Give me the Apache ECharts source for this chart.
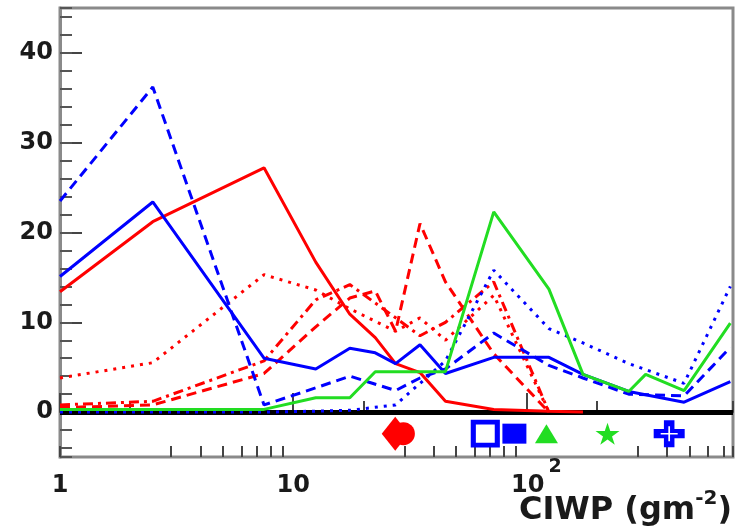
<!DOCTYPE html>
<html>
<head>
<meta charset="utf-8">
<title>CIWP distributions</title>
<script src="https://cdn.jsdelivr.net/npm/echarts@6/dist/echarts.min.js"></script>
<style>
  html, body { margin: 0; padding: 0; background: #fff; }
  #chart { width: 738px; height: 529px; }
</style>
</head>
<body>
<div id="chart"></div>
<script>
// bin centres along CIWP (g m^-2), shared by every curve; null = no point in that bin
var ciwp = [1, 2.5, 7.5, 12.5, 17.5, 22.5, 27.5, 35, 45, 72.5, 125, 175, 275, 325, 475, 750];

var redSolid   = [13.4, 21.2, 27.2, 16.7, 10.9, 8.3, 5.4, 4.4, 1.2, 0.3, 0.1, 0, null, null, null, null];
var redDashed  = [0.5, 0.8, 4.3, 9.5, 12.7, 13.5, 9.0, 21.0, 14.5, 6.5, 0, null, null, null, null, null];
var redDotted  = [3.8, 5.5, 15.3, 13.6, 11.5, null, 9.0, 10.5, 8.0, 13.0, 0, null, null, null, null, null];
var redDashDot = [0.8, 1.2, 5.7, 12.5, 14.2, null, 10.5, 8.5, 10.0, 14.5, 0, null, null, null, null, null];
var blueSolid  = [15.1, 23.4, 6.0, 4.8, 7.1, 6.6, 5.4, 7.5, 4.3, 6.1, 6.1, 4.2, 2.3, null, 1.1, 3.4];
var blueDashed = [23.5, 36.2, 0.8, 2.7, 4.0, null, 2.4, 3.8, 4.8, 8.8, 5.2, 3.8, 2.0, null, 1.8, 7.2];
var blueDotted = [0, 0, 0, 0.1, 0.2, null, 0.8, 3.2, 5.7, 15.8, 9.3, 7.7, 5.4, null, 3.2, 14.0];
var greenSolid = [0.3, 0.3, 0.3, 1.6, 1.6, 4.5, null, null, 4.5, 22.3, 13.7, 4.2, 2.3, 4.2, 2.4, 9.9];

// mean CIWP markers drawn under the zero line
var markerX = [27.4, 29.7, 66.7, 88.9, 122, 223, 410];
var markerY = -2.4;

var FONT = 'DejaVu Sans';
var RED = '#ff0000', BLUE = '#0000ff', GREEN = '#22dd22';

function pairs(ys) {
    var out = [];
    for (var i = 0; i < ciwp.length; i++) {
        if (ys[i] !== null) out.push([ciwp[i], ys[i]]);
    }
    return out;
}

function curve(name, ys, color, dash) {
    return {
        name: name,
        type: 'line',
        data: pairs(ys),
        symbol: 'none',
        z: 3,
        lineStyle: {color: color, width: 3, type: dash}
    };
}

function marker(i, symbol, size, style) {
    style.opacity = 1;
    return {
        type: 'scatter',
        data: [[markerX[i], markerY]],
        symbol: symbol,
        symbolSize: size,
        itemStyle: style,
        z: 4
    };
}

var starPath = 'path://M50,0 L61,35 L98,35 L68,57 L79,91 L50,70 L21,91 L32,57 L2,35 L39,35 Z';
var plusPath = 'path://M33,0 H67 V33 H100 V67 H67 V100 H33 V67 H0 V33 H33 Z';
var thinPlusPath = 'path://M45,0 H55 V45 H100 V55 H55 V100 H45 V55 H0 V45 H45 Z';

var labelRich = {
    b: {fontSize: 24, fontWeight: 'bold', fontFamily: FONT, color: '#1a1a1a', padding: [16, 0, 0, 0]},
    c: {fontSize: 24, fontWeight: 'bold', fontFamily: FONT, color: '#1a1a1a', padding: [16, 0, 0, 20]},
    s: {fontSize: 19, fontWeight: 'bold', fontFamily: FONT, color: '#1a1a1a', padding: [0, 0, 21, 4]}
};

var xAxes = [{
    type: 'log',
    logBase: 10,
    min: 1,
    max: 770,
    position: 'bottom',
    axisLine: {show: true, lineStyle: {color: '#444', width: 2}},
    axisTick: {show: true, inside: true, length: 19, lineStyle: {color: '#444', width: 2}},
    splitLine: {show: false},
    axisLabel: {
        showMaxLabel: false,
        margin: 1,
        formatter: function (v) {
            var p = Math.round(Math.log10(v));
            if (p === 0) return '{b|1}';
            if (p === 1) return '{b|10}';
            return '{c|10}{s|' + p + '}';
        },
        rich: labelRich
    }
}];

// minor log ticks 2..9 in every decade: one scaled hidden axis per multiplier
for (var m = 2; m <= 9; m++) {
    xAxes.push({
        type: 'log',
        logBase: 10,
        min: 10 / m,
        max: 770 * 10 / m,
        position: 'bottom',
        axisLine: {show: false},
        axisLabel: {show: false},
        splitLine: {show: false},
        axisTick: {show: true, inside: true, length: 11, lineStyle: {color: '#444', width: 2}}
    });
}

var option = {
    animation: false,
    backgroundColor: '#fff',
    // x axis title, bottom right
    title: {
        text: '{a|CIWP (gm}{s|-2}{a|)}',
        right: 6,
        top: 485,
        padding: 0,
        textStyle: {
            rich: {
                a: {fontSize: 32, fontWeight: 'bold', fontFamily: FONT, color: '#1a1a1a', padding: [10, 0, 0, 0]},
                s: {fontSize: 20, fontWeight: 'bold', fontFamily: FONT, color: '#1a1a1a', padding: [0, 0, 14, 0]}
            }
        }
    },
    grid: {
        left: 60, right: 5, top: 8, bottom: 72,
        outerBoundsMode: 'none',
        show: true,
        borderColor: '#8a8a8a',
        borderWidth: 3
    },
    xAxis: xAxes,
    yAxis: [{
        type: 'value',
        min: -5,
        max: 45,
        splitNumber: 5,
        position: 'left',
        axisLine: {show: true, lineStyle: {color: '#8a8a8a', width: 3}},
        axisTick: {show: true, inside: true, length: 22, lineStyle: {color: '#444', width: 2}},
        splitLine: {show: false},
        axisLabel: {
            showMinLabel: false,
            showMaxLabel: false,
            margin: 7,
            fontSize: 24,
            fontWeight: 'bold',
            fontFamily: FONT,
            color: '#1a1a1a'
        }
    }, {
        // half-scale copy of the y axis, only for the minor ticks every 2
        type: 'value',
        min: -2.5,
        max: 22.5,
        splitNumber: 25,
        position: 'left',
        axisLine: {show: false},
        axisLabel: {show: false},
        splitLine: {show: false},
        axisTick: {show: true, inside: true, length: 12, lineStyle: {color: '#555', width: 2}}
    }],
    series: [
        {
            type: 'scatter',
            data: [[markerX[0], markerY]],
            symbol: 'diamond',
            symbolSize: [27, 34],
            itemStyle: {color: RED, opacity: 1},
            z: 4,
            markLine: {
                silent: true,
                symbol: 'none',
                label: {show: false},
                lineStyle: {color: '#000', width: 5, type: 'solid'},
                data: [{yAxis: 0}],
                z: 2
            }
        },
        marker(1, 'circle', 23, {color: RED}),
        marker(2, 'rect', [24, 23], {color: '#fff', borderColor: BLUE, borderWidth: 5}),
        marker(3, 'rect', [24, 20], {color: BLUE}),
        marker(4, 'triangle', [23, 19], {color: GREEN}),
        marker(5, starPath, [24, 22], {color: GREEN}),
        marker(6, plusPath, [31, 27], {color: BLUE}),
        marker(6, thinPlusPath, [17, 15], {color: '#fff'}),
        curve('red dotted', redDotted, RED, [3, 6]),
        curve('red dash-dot', redDashDot, RED, [10, 5, 3, 5]),
        curve('red dashed', redDashed, RED, [10, 6]),
        curve('red', redSolid, RED, 'solid'),
        curve('blue dotted', blueDotted, BLUE, [3, 6]),
        curve('blue dashed', blueDashed, BLUE, [10, 6]),
        curve('blue', blueSolid, BLUE, 'solid'),
        curve('green', greenSolid, GREEN, 'solid')
    ]
};

var chart = echarts.init(document.getElementById('chart'));
chart.setOption(option);
</script>
</body>
</html>
